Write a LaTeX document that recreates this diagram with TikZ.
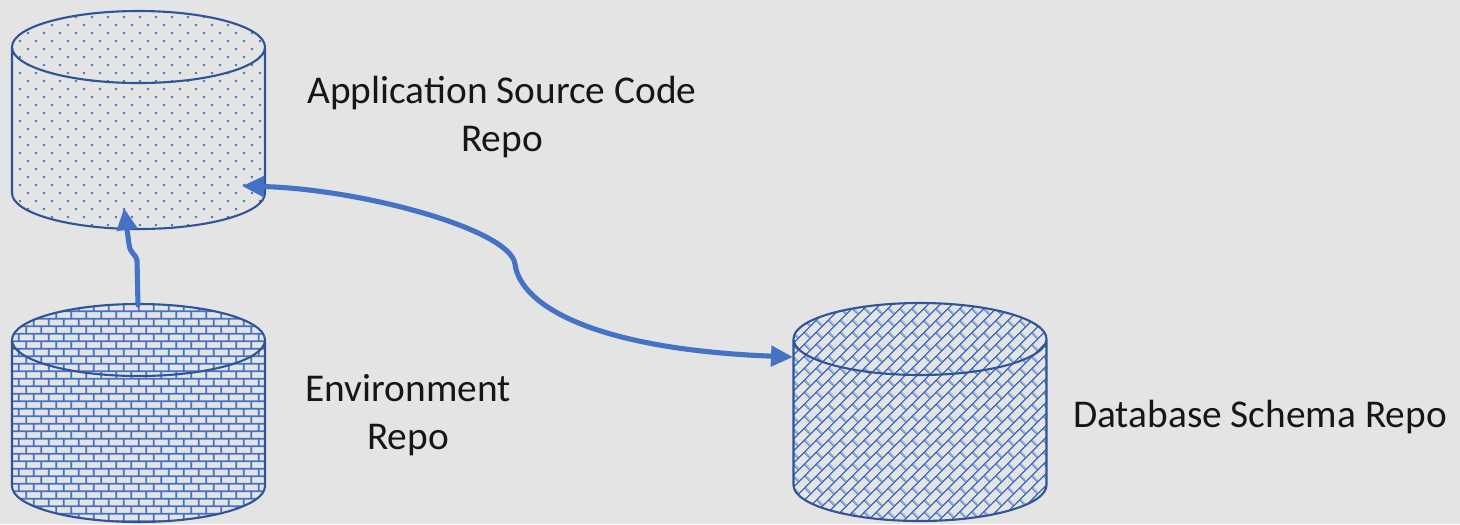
\documentclass[tikz,border=0pt]{standalone}
\usepackage{fontspec}
\setmainfont{Carlito}
\usetikzlibrary{arrows.meta,patterns.meta}
\definecolor{patblue}{HTML}{4472C4}
\definecolor{rimblue}{HTML}{2F5597}
\definecolor{bggray}{HTML}{E4E4E4}
\definecolor{txtgray}{HTML}{161616}

\tikzdeclarepattern{
  name=repo dots,
  type=colored,
  bottom left={(0pt,0pt)},
  top right={(4.55pt,4.55pt)},
  tile size={(4.55pt,4.55pt)},
  code={
    \fill[patblue] (1.14pt,1.14pt) circle (0.38pt);
    \fill[patblue] (3.41pt,3.41pt) circle (0.38pt);
  }
}
\tikzdeclarepattern{
  name=repo bricks,
  type=colored,
  bottom left={(0pt,0pt)},
  top right={(4.4pt,4.4pt)},
  tile size={(4.4pt,4.4pt)},
  code={
    \draw[patblue, line width=0.5pt, line cap=butt]
      (0pt,1.1pt) -- (4.4pt,1.1pt) (0pt,3.3pt) -- (4.4pt,3.3pt)
      (1.1pt,1.1pt) -- (1.1pt,3.3pt)
      (3.3pt,3.3pt) -- (3.3pt,4.4pt) (3.3pt,0pt) -- (3.3pt,1.1pt);
  }
}
\tikzdeclarepattern{
  name=repo diag,
  type=colored,
  bottom left={(0pt,0pt)},
  top right={(4.8pt,4.8pt)},
  tile size={(4.8pt,4.8pt)},
  tile transformation={rotate=45},
  code={
    \draw[patblue, line width=0.42pt, line cap=butt]
      (0pt,1.2pt) -- (4.8pt,1.2pt) (0pt,3.6pt) -- (4.8pt,3.6pt)
      (1.2pt,1.2pt) -- (1.2pt,3.6pt)
      (3.6pt,3.6pt) -- (3.6pt,4.8pt) (3.6pt,0pt) -- (3.6pt,1.2pt);
  }
}

\begin{document}
\begin{tikzpicture}[line join=round, line cap=round, >={Triangle[length=0.22cm,width=0.2cm]}]
	\tikzset{label style/.style={font=\fontsize{11.2}{13.6}\selectfont, text=txtgray, align=center},
		link/.style={patblue, line width=1.45pt}}
	\useasboundingbox (0,0) rectangle (14.6,5.24);
	\fill[bggray] (0,0) rectangle (14.6,5.24);
	% repositories
	\foreach \cx/\ty/\pat in {1.385/4.77/repo dots, 1.385/1.84/repo bricks, 9.20/1.85/repo diag}{
		\path[fill=white, pattern=\pat] (\cx-1.265,\ty) -- ++(0,-1.46)
			arc[start angle=180, end angle=360, x radius=1.265, y radius=0.36] -- ++(0,1.46)
			arc[start angle=0, end angle=180, x radius=1.265, y radius=0.36] -- cycle;
		\draw[rimblue, line width=0.6pt] (\cx-1.265,\ty) -- ++(0,-1.46)
			arc[start angle=180, end angle=360, x radius=1.265, y radius=0.36] -- ++(0,1.46)
			arc[start angle=0, end angle=180, x radius=1.265, y radius=0.36]
			arc[start angle=180, end angle=360, x radius=1.265, y radius=0.36];
	}
	\node[label style] (app label) at (5.02,4.07) {Application Source Code\\Repo};
	\node[label style] (env label) at (4.08,1.09) {Environment\\Repo};
	\node[label style] (db label) at (12.60,1.07) {Database Schema Repo};
	% arrow ends
	\coordinate (env top) at (1.38,2.19);
	\coordinate (app low) at (1.24,3.16);
	\coordinate (app side) at (2.42,3.38);
	\coordinate (db side) at (7.93,1.67);
	\draw[link,->] (env top) -- (1.37,2.64) .. controls (1.36,2.70) and (1.30,2.70) .. (1.29,2.80) -- (app low);
	\draw[link,<->] (app side) .. controls (3.6,3.35) and (5.10,2.95) .. (5.15,2.60)
		.. controls (5.20,2.2) and (5.9,1.75) .. (db side);
\end{tikzpicture}
\end{document}
